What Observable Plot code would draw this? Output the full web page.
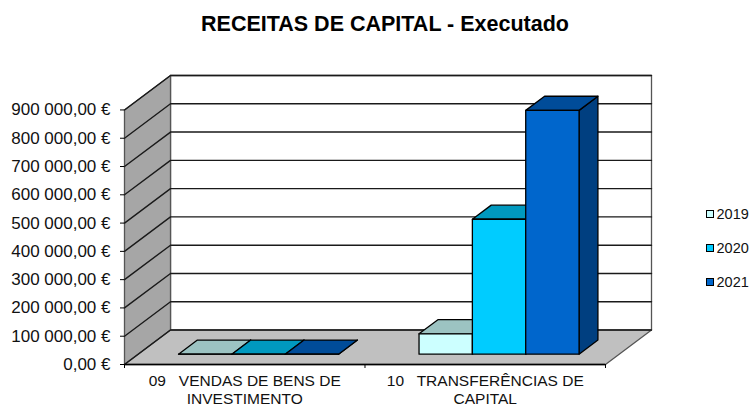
<!DOCTYPE html>
<html lang="pt">
<head>
<meta charset="utf-8">
<script src="https://cdn.jsdelivr.net/npm/d3@7"></script>
<script src="https://cdn.jsdelivr.net/npm/@observablehq/plot@0.6"></script>
<style>
  html, body { margin: 0; padding: 0; background: #fff; overflow: hidden; }
  #chart { position: relative; width: 749px; height: 406px; font-family: "Liberation Sans", Arial, sans-serif; }
  #chart figure { margin: 0; }
  #chart h2 { margin: 0; height: 50px; padding: 10px 0 0 21px; box-sizing: border-box; text-align: center;
    font: bold 21.5px/28px "Liberation Sans", Arial, sans-serif; color: #000; }
  #chart svg text { white-space: pre; }
  .legend { position: absolute; left: 706px; top: 202px; }
  .legend div { display: flex; align-items: center; height: 24px; margin-bottom: 10px; font-size: 14.5px; color: #111; }
  .legend i { display: block; width: 6px; height: 6px; border: 1.5px solid #000; margin-right: 2.5px; }
</style>
</head>
<body>
<div id="chart"></div>
<script>
const chartTitle = "RECEITAS DE CAPITAL - Executado";
const categories = ["09   VENDAS DE BENS DE\nINVESTIMENTO", "10   TRANSFERÊNCIAS DE\nCAPITAL"];
const years = ["2019", "2020", "2021"];
const values2019 = [0, 72000];
const values2020 = [0, 477000];
const values2021 = [0, 862000];
const yTicks = [0, 100000, 200000, 300000, 400000, 500000, 600000, 700000, 800000, 900000];
const frontFills = ["#CCFFFF", "#00CCFF", "#0066CC"];
const topFills = ["#9CC3C2", "#0099BF", "#004C99"];
const sideFills = ["#7FA3A3", "#007FA0", "#003F80"];

// Pseudo-3D projection: depth 0 is the front plane, depth 1 the back wall.
const depthX = 0.1913;
const depthY = 121800;
const barNear = 0.30;
const barFar = 0.71;
const barWidth = 0.2218;
const valueMax = yTicks[yTicks.length - 1];
const seriesValues = [values2019, values2020, values2021];

function polygons() {
  const rows = [];
  const add = (id, fill, pts) => pts.forEach(([x, y, d]) =>
    rows.push({id, fill, x: x + d * depthX, y: y + d * depthY}));
  categories.forEach((_, c) => {
    seriesValues.forEach((vals, s) => {
      const x0 = c + 0.5 + (s - 1.5) * barWidth;
      const x1 = x0 + barWidth;
      const v = vals[c];
      const k = `${c}-${s}`;
      add(k + "side", sideFills[s], [[x1, 0, barNear], [x1, 0, barFar], [x1, v, barFar], [x1, v, barNear]]);
      add(k + "top", topFills[s], [[x0, v, barNear], [x0, v, barFar], [x1, v, barFar], [x1, v, barNear]]);
      add(k + "front", frontFills[s], [[x0, 0, barNear], [x0, v, barNear], [x1, v, barNear], [x1, 0, barNear]]);
    });
  });
  return rows;
}

function walls() {
  const n = categories.length;
  const rows = [];
  const add = (id, fill, pts) => pts.forEach(([x, y, d]) =>
    rows.push({id, fill, x: x + d * depthX, y: y + d * depthY}));
  add("back", "#FFFFFF", [[0, 0, 1], [0, valueMax, 1], [n, valueMax, 1], [n, 0, 1]]);
  add("left", "#A6A6A6", [[0, 0, 0], [0, valueMax, 0], [0, valueMax, 1], [0, 0, 1]]);
  add("floor", "#C0C0C0", [[0, 0, 0], [0, 0, 1], [n, 0, 1], [n, 0, 0]]);
  return rows;
}

function gridRows() {
  const n = categories.length;
  const rows = [];
  yTicks.forEach(v => {
    [[0, 0], [0, 1], [n, 1]].forEach(([x, d]) =>
      rows.push({v, x: x + d * depthX, y: v + d * depthY}));
  });
  return rows;
}

const euro = d3.formatLocale({decimal: ",", thousands: " ", grouping: [3], currency: ["", " €"]}).format("$,.2f");

const plot = Plot.plot({
  title: chartTitle,
  width: 749,
  height: 356,
  marginTop: 25,
  marginBottom: 42,
  marginLeft: 124,
  marginRight: 98,
  style: {background: "transparent", fontFamily: "'Liberation Sans', Arial, sans-serif", color: "#111"},
  x: {domain: [0, categories.length + depthX], label: null},
  y: {domain: [0, valueMax + depthY], label: null},
  marks: [
    Plot.line(walls(), {x: "x", y: "y", z: "id", fill: "fill", stroke: "#555", strokeWidth: 1.3, curve: "linear-closed"}),
    Plot.line(gridRows(), {x: "x", y: "y", z: "v", stroke: "#1a1a1a", strokeWidth: 1.4}),
    Plot.ruleY([0], {x1: 0, x2: categories.length, stroke: "#000", strokeWidth: 1.4}),
    Plot.line(polygons(), {x: "x", y: "y", z: "id", fill: "fill", stroke: "#000", strokeWidth: 1.3, curve: "linear-closed"}),
    Plot.axisY({ticks: yTicks, tickFormat: euro, tickSize: 4, tickPadding: 10, fontSize: 17, label: null, stroke: "#000"}),
    Plot.axisX({ticks: [0, 1, 2], tickFormat: () => "", tickSize: 4, label: null, stroke: "#000"}),
    Plot.axisX({ticks: [0.5, 1.5], tickFormat: d => categories[Math.floor(d)], tickSize: 0, tickPadding: 9, fontSize: 15.5, lineHeight: 1.16, lineAnchor: "top", label: null})
  ]
});

const root = document.getElementById("chart");
root.append(plot);

const legend = document.createElement("div");
legend.className = "legend";
years.forEach((y, i) => {
  const row = document.createElement("div");
  const swatch = document.createElement("i");
  swatch.style.background = frontFills[i];
  row.append(swatch, document.createTextNode(y));
  legend.append(row);
});
root.append(legend);
</script>
</body>
</html>
